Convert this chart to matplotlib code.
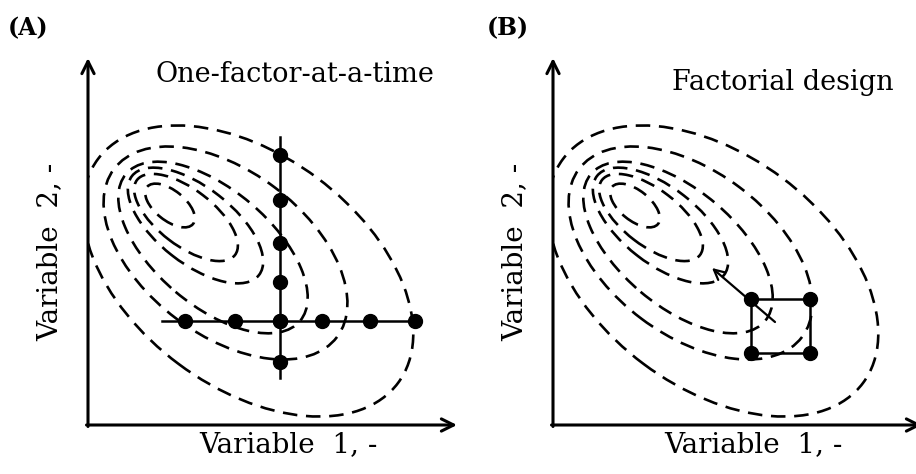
import numpy as np
import matplotlib
matplotlib.use('Agg')
import matplotlib.pyplot as plt
from matplotlib.patches import Ellipse

# contour ellipses: upper-left tip, lower-right tip, semi-minor axis (data units)
contour_ul = [(10, 266), (26, 256), (38, 251), (44, 249), (49, 245), (59, 238)]
contour_lr = [(310, 42), (249, 88), (212, 104), (171, 150), (147, 170), (105, 201)]
contour_b = [116, 82, 58, 38, 28, 15]

# one-factor-at-a-time runs
ofat_x = [97, 147, 192, 234, 282, 327]
ofat_y = [270, 225, 182, 143, 104, 63]
ofat_center = (192, 104)

# factorial design square corners
fact_x = [198, 257, 257, 198]
fact_y = [126, 126, 72, 72]
steep_start = (222, 103)
steep_end = (159, 157)

panel_titles = ['(A)', '(B)']
panel_names = ['One-factor-at-a-time', 'Factorial design']
xlabel = 'Variable  1, -'
ylabel = 'Variable  2, -'

W, H = 916, 474
fig = plt.figure(figsize=(W / 100, H / 100), dpi=100)

serif = ['DejaVu Serif']
dash = (0, (5.5, 3.3))


def make_axes(left_px):
    ax = fig.add_axes([left_px / W, (H - 425) / H, 369 / W, 367 / H])
    ax.set_xlim(0, 369)
    ax.set_ylim(0, 367)
    ax.axis('off')
    # axis arrows
    ax.annotate('', xy=(369, 0), xytext=(-1.5, 0), annotation_clip=False,
                arrowprops=dict(arrowstyle='->', lw=2.2, color='black',
                                mutation_scale=22, shrinkA=0, shrinkB=0))
    ax.annotate('', xy=(0, 367), xytext=(0, -1.5), annotation_clip=False,
                arrowprops=dict(arrowstyle='->', lw=2.2, color='black',
                                mutation_scale=22, shrinkA=0, shrinkB=0))
    for ul, lr, b in zip(contour_ul, contour_lr, contour_b):
        cx = (ul[0] + lr[0]) / 2
        cy = (ul[1] + lr[1]) / 2
        a = np.hypot(lr[0] - ul[0], lr[1] - ul[1]) / 2
        ang = np.degrees(np.arctan2(lr[1] - ul[1], lr[0] - ul[0]))
        ax.add_patch(Ellipse((cx, cy), 2 * a, 2 * b, angle=ang, fill=False,
                             lw=1.9, linestyle=dash, color='black'))
    ax.text(-38, 173, ylabel, rotation=90, ha='center', va='center',
            fontsize=20, family=serif, clip_on=False)
    ax.text(200, -20, xlabel, ha='center', va='center',
            fontsize=20, family=serif, clip_on=False)
    return ax


# panel A
axA = make_axes(88)
axA.plot([74, 330], [ofat_center[1]] * 2, color='black', lw=1.8)
axA.plot([ofat_center[0]] * 2, [47, 288], color='black', lw=1.8)
axA.plot(ofat_x, [ofat_center[1]] * len(ofat_x), 'o', color='black', ms=10)
axA.plot([ofat_center[0]] * len(ofat_y), ofat_y, 'o', color='black', ms=10)
axA.text(207, 350, panel_names[0], ha='center', va='center', fontsize=19.5, family=serif)

# panel B
axB = make_axes(553)
axB.plot(fact_x + fact_x[:1], fact_y + fact_y[:1], color='black', lw=1.8)
axB.plot(fact_x, fact_y, 'o', color='black', ms=10)
axB.annotate('', xy=steep_end, xytext=steep_start,
             arrowprops=dict(arrowstyle='->', lw=1.6, color='black',
                             mutation_scale=18, shrinkA=0, shrinkB=0))
axB.text(230, 343, panel_names[1], ha='center', va='center', fontsize=19.5, family=serif)

fig.text(8 / W, 1 - 28 / H, panel_titles[0], fontsize=17, fontweight='bold',
         family=serif, va='center', ha='left')
fig.text(487 / W, 1 - 28 / H, panel_titles[1], fontsize=17, fontweight='bold',
         family=serif, va='center', ha='left')

fig.savefig('out.png', dpi=100)
